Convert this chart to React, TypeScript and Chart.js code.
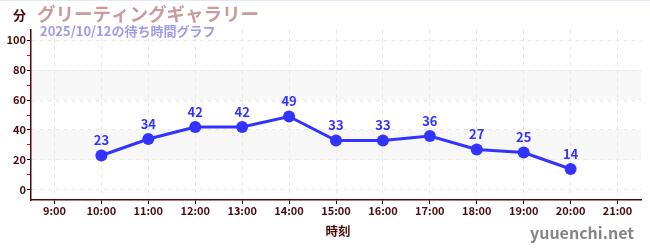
import React, { useEffect, useRef } from "react";
import { Chart, registerables } from "chart.js";

Chart.register(...registerables);

const categories = ["9:00", "10:00", "11:00", "12:00", "13:00", "14:00", "15:00", "16:00", "17:00", "18:00", "19:00", "20:00", "21:00"];
const waitTimes: (number | null)[] = [null, 23, 34, 42, 42, 49, 33, 33, 36, 27, 25, 14, null];
const yTickValues = [0, 10, 20, 30, 40, 50, 60, 70, 80, 90, 100];
const bandRanges: [number, number][] = [[20, 40], [60, 80]];

const titleText = "グリーティングギャラリー";
const subtitleText = "2025/10/12の待ち時間グラフ";
const yUnitText = "分";
const xTitleText = "時刻";
const watermarkText = "yuuenchi.net";

const FONT = "'Noto Sans CJK JP', 'Noto Sans', sans-serif";
const AXIS_COLOR = "#4a0a0a";
const LINE_COLOR = "#3333ff";

const decorPlugin = {
  id: "decor",
  beforeDraw(chart: any) {
    const { ctx, chartArea, scales } = chart;
    const y = scales.y;
    ctx.save();
    ctx.fillStyle = "#f7f7f7";
    for (const [lo, hi] of bandRanges) {
      const top = y.getPixelForValue(hi);
      const bot = y.getPixelForValue(lo);
      ctx.fillRect(chartArea.left, top, chartArea.right - chartArea.left, bot - top);
    }
    ctx.restore();
  },
  afterDraw(chart: any) {
    const { ctx, width } = chart;
    ctx.save();
    ctx.strokeStyle = "#e6e6f6";
    ctx.lineWidth = 1;
    ctx.beginPath();
    ctx.moveTo(0, 0.5);
    ctx.lineTo(width, 0.5);
    ctx.stroke();

    ctx.textBaseline = "middle";
    ctx.textAlign = "left";
    ctx.fillStyle = AXIS_COLOR;
    ctx.font = `bold 13px ${FONT}`;
    ctx.fillText(yUnitText, 13, 15);

    ctx.fillStyle = "#c89c9c";
    ctx.font = `bold 18.5px ${FONT}`;
    ctx.fillText(titleText, 37, 14);

    ctx.fillStyle = "#9c9cee";
    ctx.font = `bold 13px ${FONT}`;
    ctx.fillText(subtitleText, 40, 31);

    ctx.fillStyle = AXIS_COLOR;
    ctx.textAlign = "center";
    ctx.font = `bold 12.5px ${FONT}`;
    ctx.fillText(xTitleText, 338, 231);

    ctx.fillStyle = "#858585";
    ctx.textAlign = "right";
    ctx.font = `bold 16px ${FONT}`;
    ctx.fillText(watermarkText, 634, 233);

    // data labels
    const meta = chart.getDatasetMeta(0);
    ctx.fillStyle = LINE_COLOR;
    ctx.textAlign = "center";
    ctx.font = `bold 13px ${FONT}`;
    meta.data.forEach((pt: any, i: number) => {
      const v = waitTimes[i];
      if (v === null || v === undefined) return;
      ctx.fillText(String(v), pt.x, pt.y - 15);
    });
    ctx.restore();
  },
};

export default function App() {
  const ref = useRef<HTMLCanvasElement>(null);
  useEffect(() => {
    document.body.style.margin = "0";
    const chart = new Chart(ref.current!, {
      type: "line",
      data: {
        labels: categories,
        datasets: [
          {
            data: waitTimes,
            borderColor: LINE_COLOR,
            backgroundColor: LINE_COLOR,
            borderWidth: 3,
            pointRadius: 6,
            pointHoverRadius: 6,
            pointBackgroundColor: LINE_COLOR,
            pointBorderWidth: 0,
            tension: 0,
            spanGaps: false,
          },
        ],
      },
      options: {
        animation: false,
        responsive: false,
        devicePixelRatio: 1,
        layout: { padding: { top: 30, right: 9, left: 0, bottom: 0 } },
        plugins: { legend: { display: false }, tooltip: { enabled: false } },
        scales: {
          x: {
            type: "category",
            offset: true,
            afterFit: (s: any) => { s.height = 50; },
            grid: {
              offset: false,
              color: "#e8e8e8",
              tickColor: "#000000",
              tickLength: 4,
              drawOnChartArea: true,
            },
            border: { display: true, color: AXIS_COLOR, width: 1.5, dash: [4, 4] },
            ticks: {
              color: AXIS_COLOR,
              font: { family: FONT, size: 11, weight: "bold" },
              padding: 0,
              maxRotation: 0,
              autoSkip: false,
            },
          },
          y: {
            min: -6.67,
            max: 106.67,
            afterFit: (s: any) => { s.width = 31; },
            afterBuildTicks: (s: any) => { s.ticks = yTickValues.map((v) => ({ value: v })); },
            grid: {
              color: (c: any) => (c.tick && c.tick.value % 20 === 0 ? "#e8e8e8" : "rgba(0,0,0,0)"),
              tickColor: (c: any) => (c.tick && c.tick.value % 20 === 0 ? "#000000" : "#ff0000"),
              tickLength: 4,
            },
            border: { display: true, color: AXIS_COLOR, width: 1.5, dash: [4, 4] },
            ticks: {
              color: AXIS_COLOR,
              font: { family: FONT, size: 11, weight: "bold" },
              padding: 1,
              callback: (v: any) => (Number(v) % 20 === 0 ? String(v) : ""),
            },
          },
        },
      },
      plugins: [decorPlugin],
    });
    return () => chart.destroy();
  }, []);
  return <canvas ref={ref} width={650} height={250} style={{ display: "block" }} />;
}
